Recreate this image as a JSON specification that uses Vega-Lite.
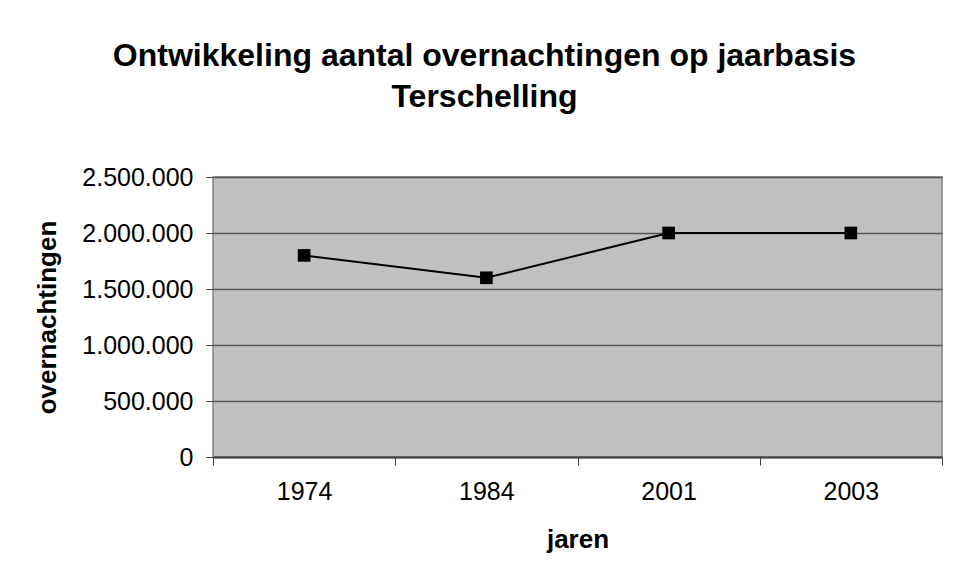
{
  "$schema": "https://vega.github.io/schema/vega-lite/v6.json",
  "autosize": "none",
  "width": 729,
  "height": 280,
  "padding": {"left": 213, "top": 177, "right": 11, "bottom": 126},
  "background": "white",
  "config": {
    "font": "Liberation Sans",
    "locale": {"number": {"decimal": ",", "thousands": ".", "grouping": [3], "currency": ["€", ""]}},
    "view": {"fill": "#C0C0C0", "stroke": "#808080", "strokeWidth": 1.5}
  },
  "title": {
    "text": ["Ontwikkeling aantal overnachtingen op jaarbasis", "Terschelling"],
    "font": "Liberation Sans",
    "fontSize": 32,
    "fontWeight": "bold",
    "color": "black",
    "anchor": "middle",
    "frame": "group",
    "dx": -93,
    "lineHeight": 41,
    "offset": 51
  },
  "data": {
    "values": [
      {"jaar": "1974", "overnachtingen": 1800000},
      {"jaar": "1984", "overnachtingen": 1600000},
      {"jaar": "2001", "overnachtingen": 2000000},
      {"jaar": "2003", "overnachtingen": 2000000}
    ]
  },
  "encoding": {
    "x": {
      "field": "jaar",
      "type": "ordinal",
      "scale": {"paddingInner": 0, "paddingOuter": 0},
      "axis": {
        "title": "jaren",
        "titleFont": "Liberation Sans",
        "titleFontSize": 26,
        "titleFontWeight": "bold",
        "titleColor": "black",
        "titlePadding": 22,
        "labelAngle": 0,
        "labelFont": "Liberation Sans",
        "labelFontSize": 25,
        "labelColor": "black",
        "labelPadding": 14,
        "tickBand": "extent",
        "tickSize": 8,
        "tickColor": "#404040",
        "domainColor": "#404040",
        "domainWidth": 2,
        "grid": false
      }
    },
    "y": {
      "field": "overnachtingen",
      "type": "quantitative",
      "scale": {"domain": [0, 2500000], "nice": false},
      "axis": {
        "title": "overnachtingen",
        "titleFont": "Liberation Sans",
        "titleFontSize": 26,
        "titleFontWeight": "bold",
        "titleColor": "black",
        "titlePadding": 21,
        "values": [0, 500000, 1000000, 1500000, 2000000, 2500000],
        "format": ",d",
        "labelFont": "Liberation Sans",
        "labelFontSize": 25,
        "labelColor": "black",
        "labelPadding": 13,
        "tickSize": 7,
        "tickColor": "#404040",
        "domain": false,
        "grid": true,
        "gridColor": "#555555",
        "gridWidth": 1.5
      }
    }
  },
  "layer": [
    {"mark": {"type": "line", "color": "black", "strokeWidth": 2}},
    {"mark": {"type": "point", "shape": "square", "filled": true, "color": "black", "opacity": 1, "size": 160}}
  ]
}
